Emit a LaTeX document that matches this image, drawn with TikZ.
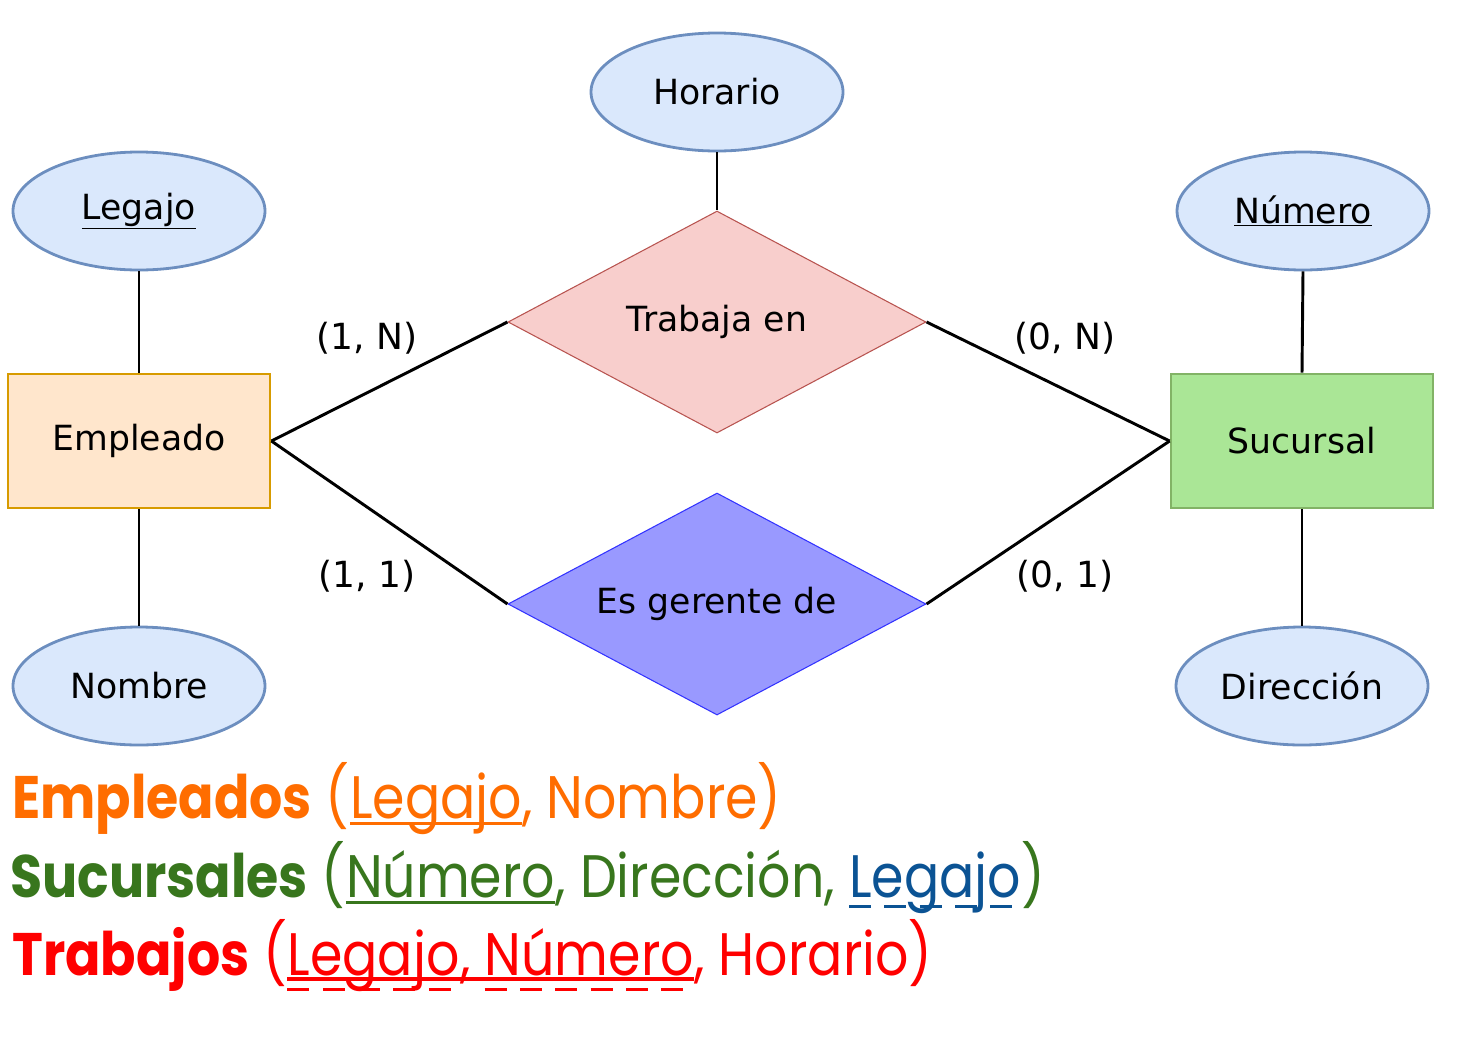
\documentclass[tikz,border=0pt]{standalone}
\usepackage{fontspec}
\setmainfont{DejaVu Sans}
\newfontfamily\geofont[FakeStretch=0.87]{Poppins}
\usetikzlibrary{shapes.geometric}
\definecolor{attrfill}{HTML}{DAE8FC}
\definecolor{attrline}{HTML}{6C8EBF}
\definecolor{empfill}{HTML}{FFE6CC}
\definecolor{empline}{HTML}{D79B00}
\definecolor{sucfill}{HTML}{AAE696}
\definecolor{sucline}{HTML}{82B366}
\definecolor{trfill}{HTML}{F8CECC}
\definecolor{trline}{HTML}{B85450}
\definecolor{gefill}{HTML}{9999FF}
\definecolor{geline}{HTML}{3333FF}
\definecolor{txorange}{HTML}{FF6D00}
\definecolor{txgreen}{HTML}{38761D}
\definecolor{txblue}{HTML}{0B5394}
\definecolor{txred}{HTML}{FF0000}
\begin{document}
\begin{tikzpicture}[x=0.75pt,y=-0.75pt,
  dfont/.style={font=\fontsize{26}{30}\selectfont},
  attr/.style={ellipse, draw=attrline, fill=attrfill, line width=2.1pt, minimum width=189pt, minimum height=88.5pt, inner sep=0pt, dfont},
  entity/.style={rectangle, line width=2.1pt, minimum width=196.5pt, minimum height=100.5pt, inner sep=0pt, dfont},
  rel/.style={diamond, line width=0.8pt, minimum width=313.5pt, minimum height=166.5pt, inner sep=0pt},
  conn/.style={line width=2.2pt, black},
  card/.style={font=\fontsize{27}{31}\selectfont, inner sep=0pt},
  btext/.style={font=\geofont\fontsize{45}{50}\selectfont, inner sep=0pt, anchor=base west},
  uline/.style={line width=2.3pt},
  dline/.style={line width=2.3pt, dash pattern=on 16.5pt off 10pt}
]
\useasboundingbox (0,0) rectangle (1466,1043);

% attributes
\node[attr] (horario) at (717,92) {Horario};
\node[attr] (legajo) at (139,211) {\underline{Legajo}};
\node[attr] (numero) at (1303,211) {\underline{Número}};
\node[attr] (nombre) at (139,686) {Nombre};
\node[attr] (direccion) at (1302,686) {Dirección};

% entities
\node[entity, draw=empline, fill=empfill] (emp) at (139,441) {Empleado};
\node[entity, draw=sucline, fill=sucfill] (suc) at (1302,441) {Sucursal};

% relations
\node[rel, draw=trline, fill=trfill, label={[dfont]center:Trabaja en}] (tr) at (717,322) {};
\node[rel, draw=geline, fill=gefill, label={[dfont]center:Es gerente de}] (ge) at (717,604) {};

% connectors
\draw[conn] (horario.south) -- (tr.north);
\draw[conn] (legajo.south) -- (emp.north);
\draw[conn] (emp.south) -- (nombre.north);
\draw[conn] (numero.south) -- (suc.north);
\draw[conn] (suc.south) -- (direccion.north);
\draw[conn] (emp.east) -- (tr.west);
\draw[conn] (emp.east) -- (ge.west);
\draw[conn] (suc.west) -- (tr.east);
\draw[conn] (suc.west) -- (ge.east);

% cardinalities
\node[card] (c1) at (367,338) {(1, N)};
\node[card] (c2) at (1065,338) {(0, N)};
\node[card] (c3) at (367,576) {(1, 1)};
\node[card] (c4) at (1065,576) {(0, 1)};

% relational schema
\node[btext, text=txorange] (e1) at (12,818) {{\bfseries Empleados} (};
\node[btext, text=txorange] (e2) at (e1.base east) {Legajo};
\node[btext, text=txorange] (e3) at (e2.base east) {, Nombre)};
\draw[uline, txorange] ([yshift=-4pt]e2.base west) -- ([yshift=-4pt]e2.base east);

\node[btext, text=txgreen] (s1) at (10,897) {{\bfseries Sucursales} (};
\node[btext, text=txgreen] (s2) at (s1.base east) {Número};
\node[btext, text=txgreen] (s3) at (s2.base east) {, Dirección, \null};
\node[btext, text=txblue] (s4) at (s3.base east) {Legajo};
\node[btext, text=txgreen] (s5) at (s4.base east) {)};
\draw[uline, txgreen] ([yshift=-4pt]s2.base west) -- ([yshift=-4pt]s2.base east);
\draw[dline, txblue] ([yshift=-7pt]s4.base west) -- ([yshift=-7pt]s4.base east);

\node[btext, text=txred] (t1) at (12,975) {{\bfseries Trabajos} (};
\node[btext, text=txred] (t2) at (t1.base east) {Legajo};
\node[btext, text=txred] (t3) at (t2.base east) {, \null};
\node[btext, text=txred] (t4) at (t3.base east) {Número};
\node[btext, text=txred] (t5) at (t4.base east) {, Horario)};
\draw[uline, txred] ([yshift=-3pt]t2.base west) -- ([yshift=-3pt]t4.base east);
\draw[dline, txred] ([yshift=-11pt]t2.base west) -- ([yshift=-11pt]t2.base east);
\draw[dline, txred] ([yshift=-11pt]t4.base west) -- ([yshift=-11pt]t4.base east);
\end{tikzpicture}
\end{document}
